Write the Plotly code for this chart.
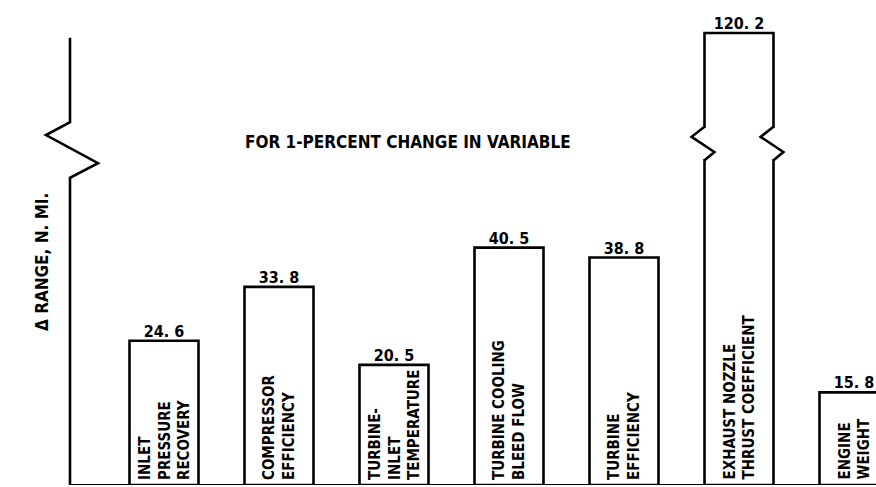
import plotly.graph_objects as go

# ---- data ----
categories = [
    "INLET<br>PRESSURE<br>RECOVERY",
    "COMPRESSOR<br>EFFICIENCY",
    "TURBINE-<br>INLET<br>TEMPERATURE",
    "TURBINE COOLING<br>BLEED FLOW",
    "TURBINE<br>EFFICIENCY",
    "EXHAUST NOZZLE<br>THRUST COEFFICIENT",
    "ENGINE<br>WEIGHT",
]
delta_range = [24.6, 33.8, 20.5, 40.5, 38.8, 120.2, 15.8]
title_text = "FOR 1-PERCENT CHANGE IN VARIABLE"
y_title = "Δ RANGE, N. MI."

# ---- broken-axis mapping ----
BREAK_LO = 58.0
ABOVE_SCALE = 0.307


def to_display(v):
    return v if v <= BREAK_LO else BREAK_LO + (v - BREAK_LO) * ABOVE_SCALE


display_vals = [to_display(v) for v in delta_range]
value_labels = [f"{v:.1f}".replace(".", ". ") for v in delta_range]
xs = list(range(len(categories)))

FONT = "DejaVu Sans Condensed, Liberation Sans Narrow, sans-serif"
BAR_WIDTH = 0.6
W, H = 876, 487
SPACING = 115.0
X0_PX = 164.0

fig = go.Figure()
fig.add_trace(go.Bar(
    x=xs, y=display_vals, width=BAR_WIDTH,
    marker=dict(color="white", line=dict(color="black", width=2.6)),
    hoverinfo="skip", showlegend=False,
))
fig.add_trace(go.Scatter(
    x=xs, y=display_vals, mode="text", text=value_labels,
    textposition="top center",
    textfont=dict(family=FONT, size=16, color="black", weight="bold"),
    cliponaxis=False, hoverinfo="skip", showlegend=False,
))

shapes = []
# break marks on any bar exceeding the break
for i, v in enumerate(delta_range):
    if v > BREAK_LO:
        y_top, y_a, y_b, y_bot = BREAK_LO + 3.1, BREAK_LO + 1.4, BREAK_LO - 1.2, BREAK_LO - 2.6
        x0, x1 = i - BAR_WIDTH / 2, i + BAR_WIDTH / 2
        shapes.append(dict(type="rect", xref="x", yref="y", x0=x0 - 0.04, x1=x1 + 0.04,
                           y0=y_bot + 0.2, y1=y_top - 0.2,
                           fillcolor="white", line=dict(width=0), layer="above"))
        for e in (x0, x1):
            path = f"M {e},{y_top} L {e-0.112},{y_a} L {e+0.086},{y_b} L {e},{y_bot}"
            shapes.append(dict(type="path", xref="x", yref="y", path=path,
                               line=dict(color="black", width=2.6), layer="above"))

# vertical axis with break
ax = 70 / W
axis_path = (f"M {ax},76.3 L {ax},61.9 L {46/W},59.7 L {98/W},54.9 "
             f"L {ax},52.4 L {ax},0")
shapes.append(dict(type="path", xref="paper", yref="y", path=axis_path,
                   line=dict(color="black", width=2.6), layer="above"))
# baseline
shapes.append(dict(type="line", xref="paper", yref="y", x0=ax, x1=1, y0=0, y1=0,
                   line=dict(color="black", width=2)))

# rotated, bottom-aligned category labels inside the bars
annotations = [
    dict(text=c, x=i, y=0, xref="x", yref="y", xanchor="center", yanchor="bottom",
         textangle=-90, align="left", showarrow=False, yshift=3,
         font=dict(family=FONT, size=15, color="black", weight="bold"))
    for i, c in enumerate(categories)
]
annotations += [
    dict(text=title_text, xref="paper", yref="paper", x=407.5 / W, y=(485 - 130) / 485,
         showarrow=False, font=dict(family=FONT, size=17, color="black", weight="bold")),
    dict(text=y_title, xref="paper", yref="paper", x=30 / W, y=(485 - 262) / 485,
         textangle=-90, showarrow=False, font=dict(family=FONT, size=17, color="black", weight="bold")),
]

x_lo = -X0_PX / SPACING
fig.update_layout(
    width=W, height=H,
    margin=dict(l=0, r=0, t=0, b=2),
    paper_bgcolor="white", plot_bgcolor="white",
    xaxis=dict(range=[x_lo, x_lo + W / SPACING], visible=False, fixedrange=True),
    yaxis=dict(range=[0, 485 / 5.862], visible=False, fixedrange=True),
    shapes=shapes,
    annotations=annotations,
    hovermode=False,
)

fig.write_html("out.html", config={"displayModeBar": False, "staticPlot": True},
               post_script="document.body.style.margin='0';")
